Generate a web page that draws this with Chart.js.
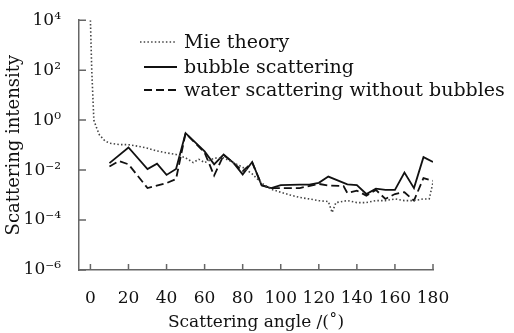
<!DOCTYPE html>
<html lang="en">
<head>
    <meta charset="UTF-8">
    <title>Scattering intensity</title>
    <style>
        body { margin: 0; background: #fff; }
        #wrap { width: 514px; height: 333px; }
    </style>
    <script src="https://cdn.jsdelivr.net/npm/chart.js"></script>
</head>
<body>
    <div id="wrap"><canvas id="chart" width="514" height="333"></canvas></div>
    <script>
        // values
        const mieAngles = [0, 0.7, 1.8, 3, 4.7, 7.5, 10, 15, 20, 25, 30, 35, 40, 45, 50, 54, 57, 60, 65, 70, 75, 80, 85, 90, 95, 100, 105, 110, 115, 120, 125, 127, 129, 135, 140, 145, 150, 155, 160, 165, 170, 175, 178, 180];
        const mieValues = [1e4, 100, 1, 0.55, 0.26, 0.15, 0.12, 0.105, 0.104, 0.09, 0.075, 0.058, 0.049, 0.042, 0.031, 0.02, 0.027, 0.02, 0.03, 0.031, 0.02, 0.013, 0.007, 0.003, 0.0017, 0.0013, 0.001, 0.0008, 0.0007, 0.0006, 0.00055, 0.0002, 0.0005, 0.0006, 0.0005, 0.0005, 0.0006, 0.0006, 0.0007, 0.0006, 0.0006, 0.0007, 0.0007, 0.0032];

        const bubbleAngles = [10, 20, 30, 35, 40, 45, 50, 60, 65, 70, 75, 80, 85, 90, 95, 100, 110, 115, 120, 125, 135, 140, 145, 150, 155, 160, 165, 170, 175, 180];
        const bubbleValues = [0.019, 0.08, 0.011, 0.018, 0.0064, 0.011, 0.3, 0.056, 0.017, 0.042, 0.02, 0.0067, 0.021, 0.0024, 0.0019, 0.0025, 0.0026, 0.0026, 0.0031, 0.0055, 0.0027, 0.0025, 0.0011, 0.0018, 0.0016, 0.0016, 0.008, 0.0019, 0.033, 0.021];

        const waterAngles = [10, 15, 20, 30, 40, 45, 50, 60, 65, 70, 75, 80, 85, 90, 95, 100, 110, 120, 125, 133, 135, 140, 145, 150, 155, 160, 165, 170, 175, 180];
        const waterValues = [0.014, 0.023, 0.017, 0.0019, 0.003, 0.0044, 0.3, 0.05, 0.006, 0.04, 0.02, 0.009, 0.02, 0.0025, 0.0019, 0.0019, 0.0019, 0.0028, 0.0024, 0.0023, 0.0012, 0.0015, 0.00095, 0.0016, 0.0007, 0.0011, 0.0013, 0.0006, 0.0048, 0.0037];

        const xTicks = [0, 20, 40, 60, 80, 100, 120, 140, 160, 180];
        const yTicks = [1e-6, 1e-4, 1e-2, 1e0, 1e2, 1e4];
        const yTickLabels = ['10⁻⁶', '10⁻⁴', '10⁻²', '10⁰', '10²', '10⁴'];

        const seriesNames = ['Mie theory', 'bubble scattering', 'water scattering without bubbles'];

        const FONT = '"DejaVu Serif", serif';
        const AXIS = '#666';

        const pts = (xs, ys) => xs.map((x, i) => ({ x: x, y: ys[i] }));

        // short tick marks pointing into the plot
        const innerTicks = {
            id: 'innerTicks',
            afterDraw(chart) {
                const ctx = chart.ctx;
                const xs = chart.scales.x, ys = chart.scales.y;
                ctx.save();
                ctx.strokeStyle = AXIS;
                ctx.lineWidth = 1.5;
                ctx.beginPath();
                xTicks.forEach(v => {
                    const px = xs.getPixelForValue(v);
                    ctx.moveTo(px, ys.bottom);
                    ctx.lineTo(px, ys.bottom - 6);
                });
                yTicks.forEach(v => {
                    const py = ys.getPixelForValue(v);
                    ctx.moveTo(xs.left, py);
                    ctx.lineTo(xs.left + 7, py);
                });
                ctx.stroke();
                ctx.restore();
            }
        };

        const legendBox = {
            id: 'legendBox',
            afterDraw(chart) {
                const ctx = chart.ctx;
                const rows = [42, 67, 90];
                ctx.save();
                ctx.font = '19px ' + FONT;
                ctx.textBaseline = 'middle';
                chart.data.datasets.forEach((ds, i) => {
                    ctx.strokeStyle = ds.borderColor;
                    ctx.lineWidth = ds.borderWidth;
                    ctx.setLineDash(ds.borderDash || []);
                    ctx.beginPath();
                    ctx.moveTo(i === 0 ? 140 : 144, rows[i]);
                    ctx.lineTo(177, rows[i]);
                    ctx.stroke();
                    ctx.setLineDash([]);
                    ctx.fillStyle = '#111';
                    ctx.fillText(seriesNames[i], 184, rows[i] + 1);
                });
                ctx.restore();
            }
        };

        new Chart(document.getElementById('chart'), {
            type: 'line',
            data: {
                datasets: [
                    {
                        label: seriesNames[0],
                        data: pts(mieAngles, mieValues),
                        borderColor: '#444',
                        borderWidth: 1.6,
                        borderDash: [1.5, 2.2],
                        pointRadius: 0,
                        tension: 0
                    },
                    {
                        label: seriesNames[1],
                        data: pts(bubbleAngles, bubbleValues),
                        borderColor: '#111',
                        borderWidth: 1.8,
                        pointRadius: 0,
                        tension: 0
                    },
                    {
                        label: seriesNames[2],
                        data: pts(waterAngles, waterValues),
                        borderColor: '#111',
                        borderWidth: 1.8,
                        borderDash: [8, 4],
                        pointRadius: 0,
                        tension: 0
                    }
                ]
            },
            options: {
                responsive: false,
                animation: false,
                layout: { padding: { top: 17, right: 81, left: 0, bottom: 0 } },
                plugins: {
                    legend: { display: false },
                    tooltip: { enabled: false }
                },
                scales: {
                    x: {
                        type: 'linear',
                        min: -6,
                        max: 180,
                        afterBuildTicks: s => { s.ticks = xTicks.map(v => ({ value: v })); },
                        afterFit: s => { s.height = 63; },
                        grid: { display: false },
                        border: { display: true, color: AXIS, width: 1.5 },
                        ticks: {
                            color: '#111',
                            font: { family: FONT, size: 17 },
                            padding: 10,
                            maxRotation: 0,
                            autoSkip: false
                        },
                        title: {
                            display: true,
                            text: 'Scattering angle /(˚)',
                            color: '#111',
                            font: { family: FONT, size: 17 },
                            padding: { top: 2, bottom: 0 }
                        }
                    },
                    y: {
                        type: 'logarithmic',
                        min: 1e-6,
                        max: 1e4,
                        afterBuildTicks: s => { s.ticks = yTicks.map(v => ({ value: v })); },
                        afterFit: s => { s.width = 79; },
                        grid: { display: false },
                        border: { display: true, color: AXIS, width: 1.5 },
                        ticks: {
                            color: '#111',
                            font: { family: FONT, size: 17 },
                            padding: 10,
                            autoSkip: false,
                            callback: (v) => {
                                const i = yTicks.findIndex(t => Math.abs(Math.log10(t) - Math.log10(v)) < 1e-6);
                                return i >= 0 ? yTickLabels[i] : '';
                            }
                        },
                        title: {
                            display: true,
                            text: 'Scattering intensity',
                            color: '#111',
                            font: { family: FONT, size: 18 },
                            padding: { top: 4, bottom: 2 }
                        }
                    }
                }
            },
            plugins: [innerTicks, legendBox]
        });
    </script>
</body>
</html>
